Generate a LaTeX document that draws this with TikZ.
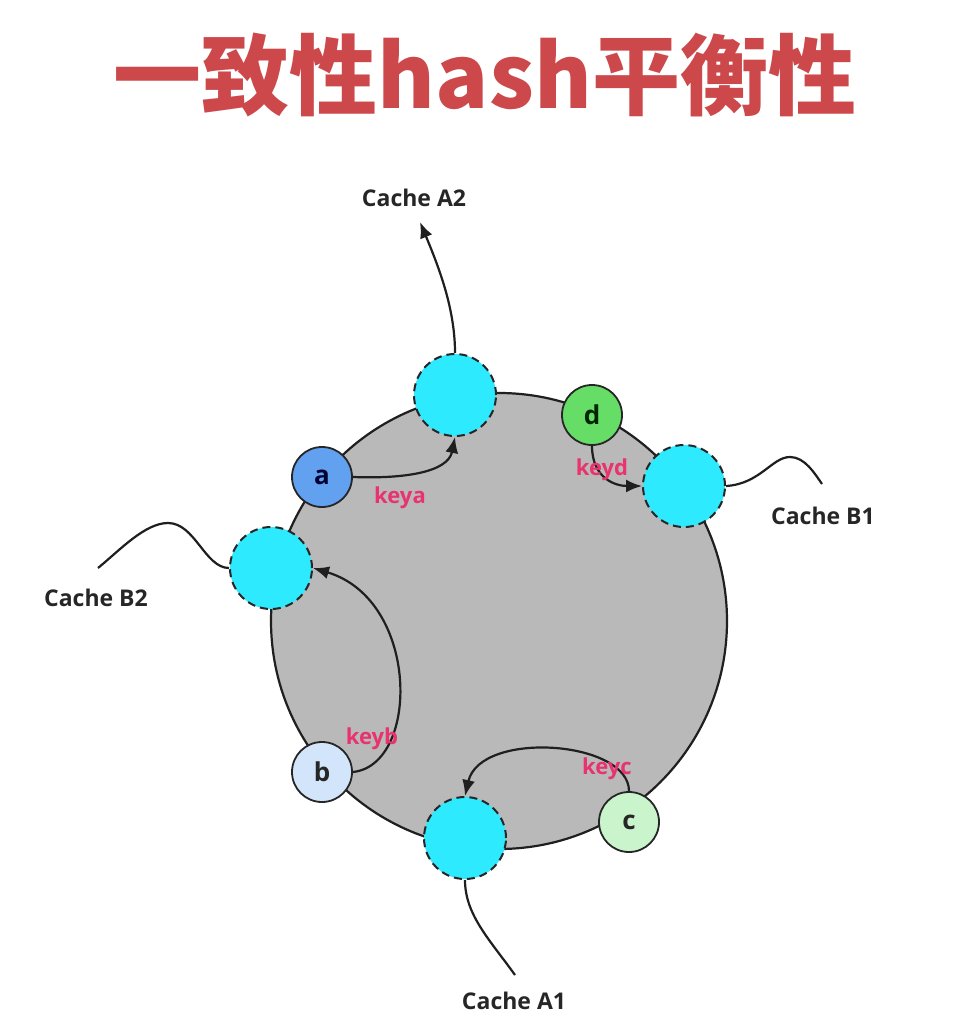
\documentclass[tikz,border=0pt]{standalone}
\usepackage{fontspec}
\setmainfont{Open Sans}
\newfontfamily\cjk{Noto Sans CJK SC}
\usetikzlibrary{arrows.meta}
\definecolor{titleC}{HTML}{CC484B}
\definecolor{cyanC}{HTML}{2EEAFF}
\definecolor{ringC}{HTML}{B9B9B9}
\definecolor{aC}{HTML}{62A0F0}
\definecolor{dC}{HTML}{66DD66}
\definecolor{bC}{HTML}{D2E5FB}
\definecolor{cC}{HTML}{C9F4CC}
\definecolor{keyC}{HTML}{E8336E}
\begin{document}
\begin{tikzpicture}[x=1pt,y=-1pt,
  cachenode/.style={circle, draw=black!85, dash pattern=on 8pt off 5pt, fill=cyanC, minimum size=82pt, inner sep=0pt, line width=2pt},
  keynode/.style={circle, draw=black!85, line width=1.8pt, minimum size=60pt, inner sep=0pt, font=\fontsize{26}{28}\selectfont\bfseries},
  link/.style={line width=2.2pt, draw=black!88},
  arr/.style={link, -{Latex[length=16pt,width=13pt]}},
  cachelabel/.style={font=\fontsize{23}{26}\selectfont\bfseries, text=black!85},
  keylabel/.style={text=keyC, font=\fontsize{22}{24}\selectfont\bfseries}]
\useasboundingbox (0,0) rectangle (971,1027);
\fill[white] (0,0) rectangle (971,1027);

\node[text=titleC, font=\cjk\bfseries\fontsize{88}{92}\selectfont] (title) at (485,75) {一致性hash平衡性};

\draw[fill=ringC, line width=2.2pt, draw=black!88] (499,621) circle (228pt);

\node[cachenode] (A2) at (455,395) {};
\node[cachenode] (B1) at (684,486) {};
\node[cachenode] (B2) at (271,568) {};
\node[cachenode] (A1) at (465,838) {};

\node[keynode, fill=aC, text=black!80!blue] (a) at (322,477) {a};
\node[keynode, fill=dC, text=black!85!green] (d) at (592,415) {d};
\node[keynode, fill=bC, text=black!85] (b) at (322,772) {b};
\node[keynode, fill=cC, text=black!85] (c) at (629,822) {c};

\node[cachelabel] (lA2) at (414,198) {Cache A2};
\node[cachelabel] (lB1) at (823,516) {Cache B1};
\node[cachelabel] (lB2) at (96,598) {Cache B2};
\node[cachelabel] (lA1) at (514,1001) {Cache A1};

\coordinate (tA2) at (420,222);
\coordinate (tB1) at (822,484);
\coordinate (tB2) at (98,568);
\coordinate (tA1) at (515,975);

\draw[arr] (A2.north) .. controls (455,310) and (440,270) .. (tA2);
\draw[link] (B1.east) .. controls (760,484) and (772,457) .. (790,457) .. controls (805,457) and (815,474) .. (tB1);
\draw[link] (B2.west) .. controls (205,568) and (195,523) .. (168,523) .. controls (145,523) and (120,550) .. (tB2);
\draw[link] (A1.south) .. controls (465,915) and (490,940) .. (tA1);

\draw[arr] (a.east) .. controls (405,479) and (448,472) .. (A2.south);
\draw[arr] (d.south) .. controls (592,478) and (615,486) .. (B1.west);
\draw[arr] (b.east) .. controls (420,765) and (420,600) .. (B2.east);
\draw[arr] (c.north) .. controls (629,740) and (480,730) .. (A1.north);

\node[keylabel] (ka) at (400,498) {keya};
\node[keylabel] (kd) at (602,470) {keyd};
\node[keylabel] (kb) at (372,739) {keyb};
\node[keylabel] (kc) at (607,769) {keyc};
\end{tikzpicture}
\end{document}
